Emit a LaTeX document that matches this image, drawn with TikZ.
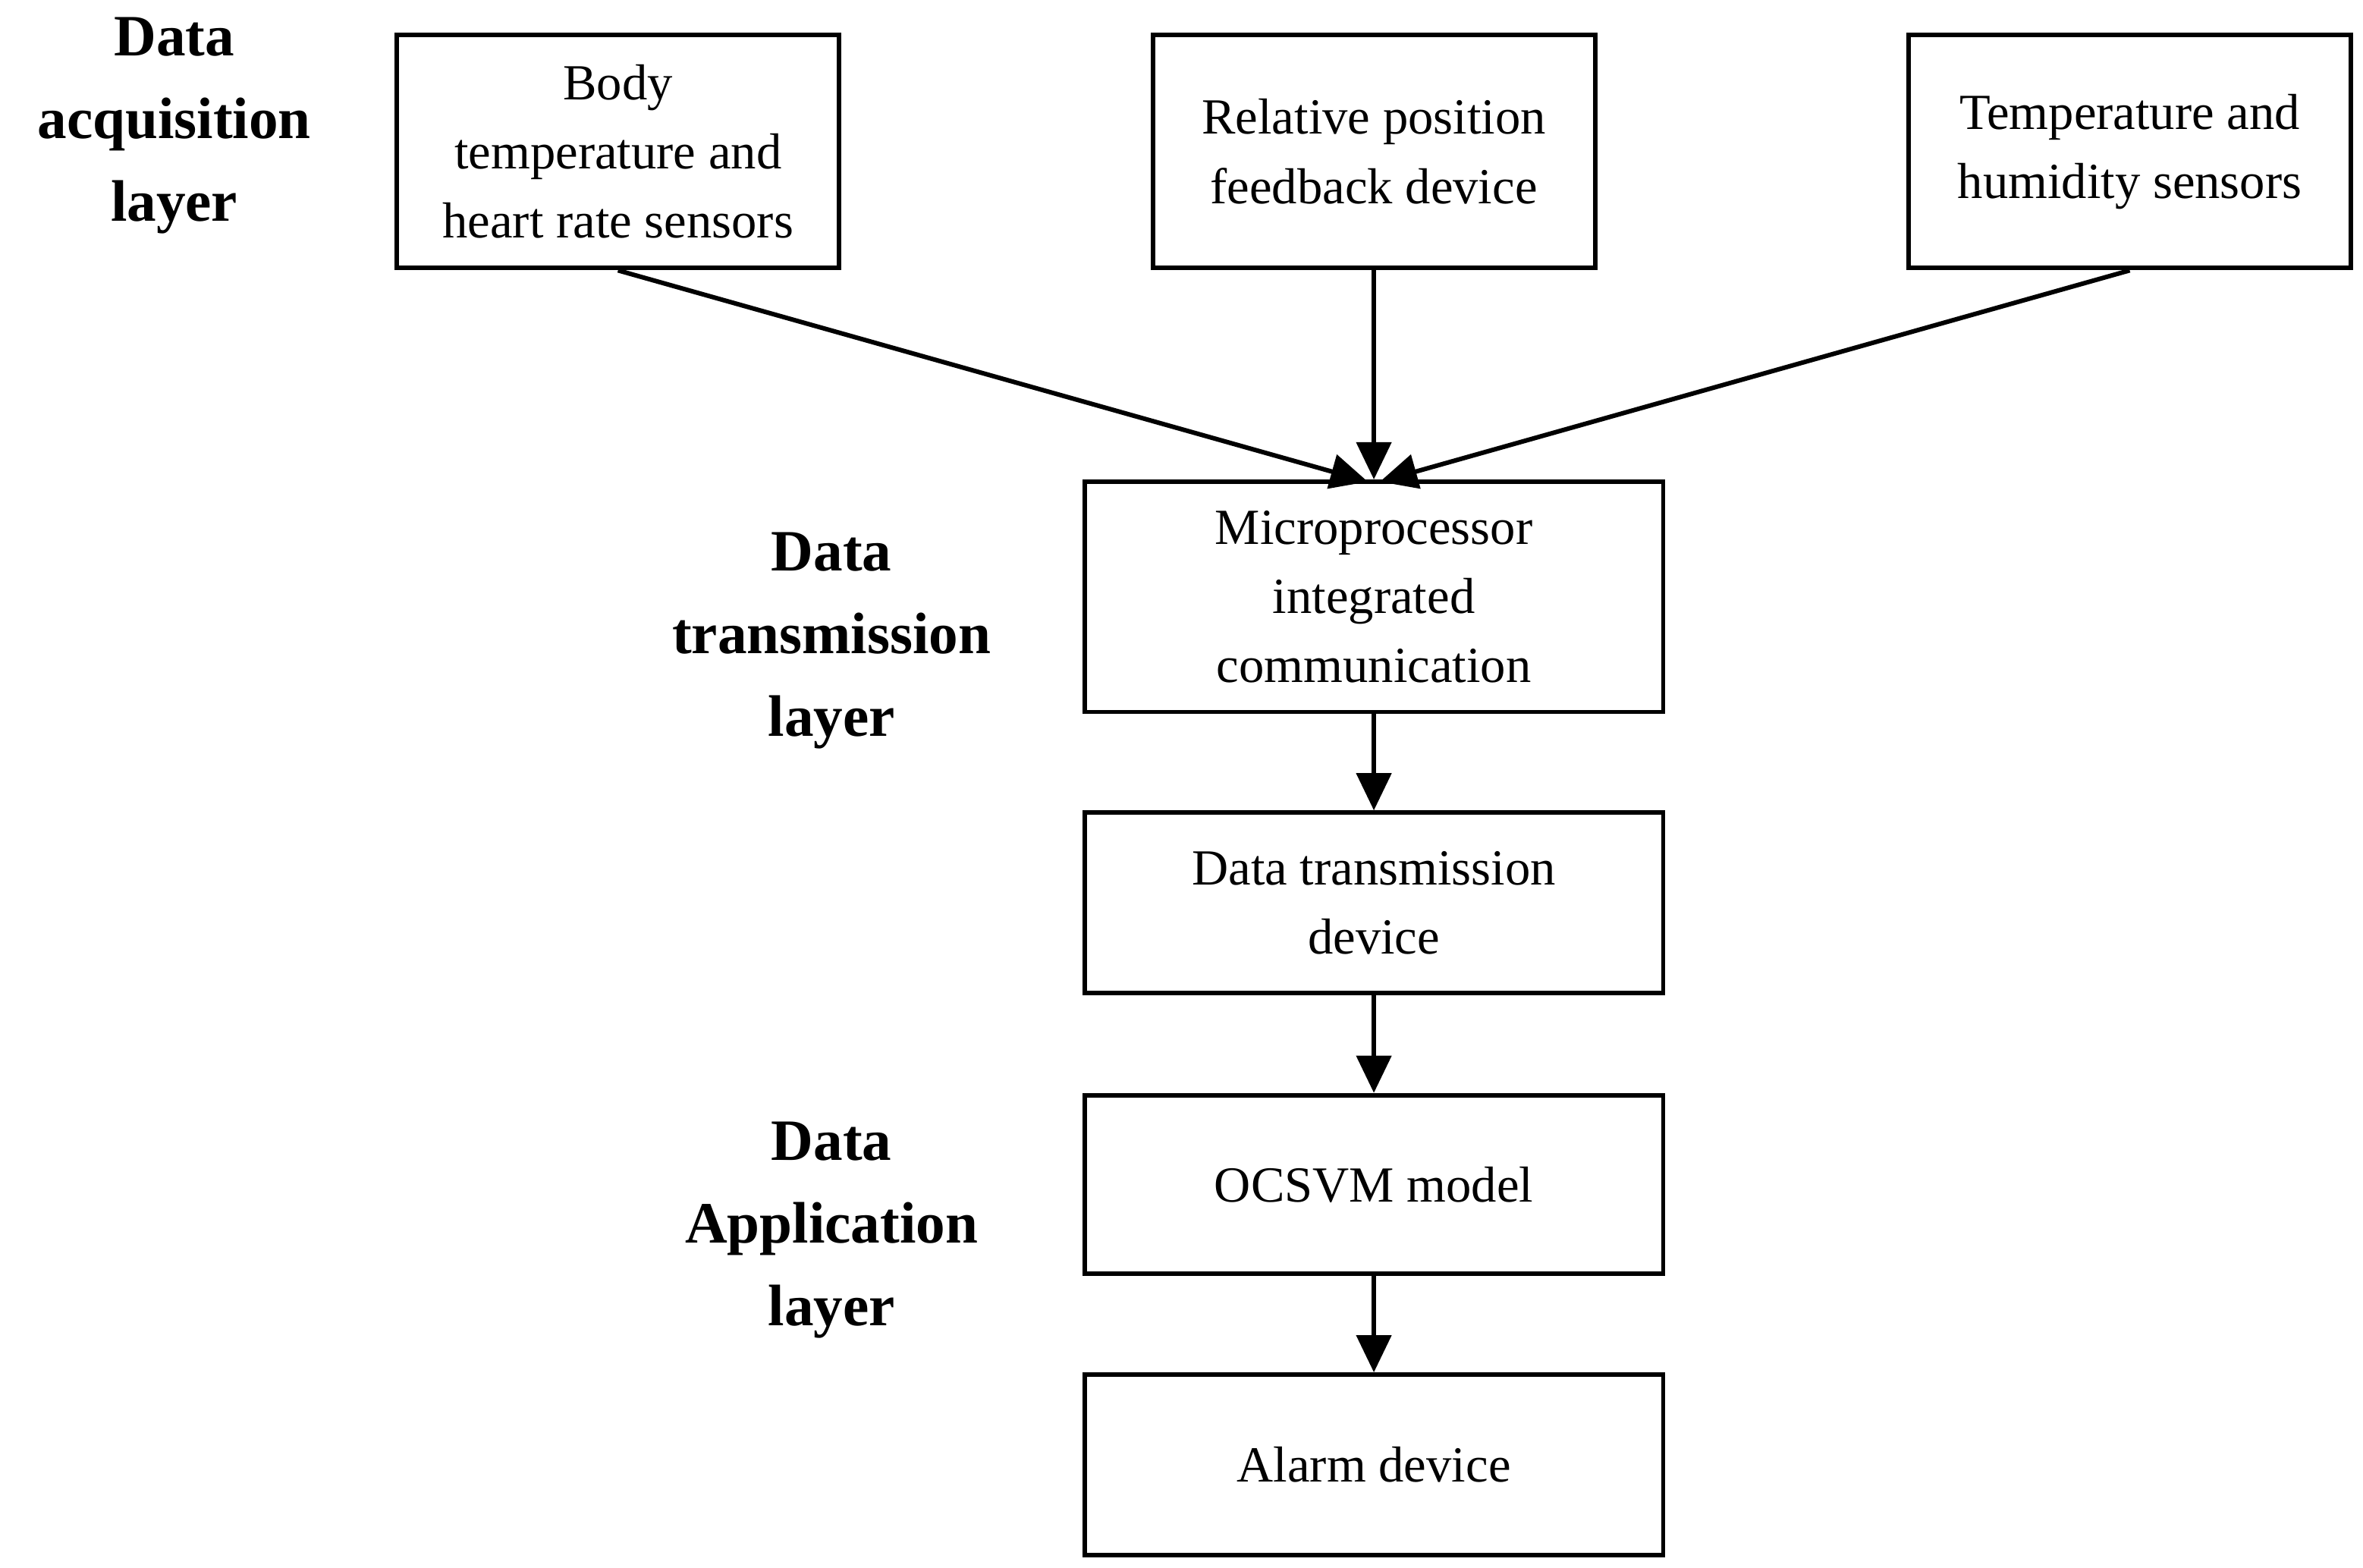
\documentclass[tikz,border=0pt]{standalone}
\usepackage{fontspec}
\setmainfont{Liberation Serif}
\usetikzlibrary{arrows.meta}
\begin{document}
\begin{tikzpicture}[x=0.02cm,y=-0.02cm,
 box/.style={draw,line width=1.7pt,inner sep=0pt,align=center,font=\fontsize{19}{26}\selectfont},
 lab/.style={align=center,font=\fontsize{22}{31}\selectfont\bfseries},
 arr/.style={line width=1.7pt,-{Triangle[length=14pt,width=13pt]}}]
\useasboundingbox (0,0) rectangle (1560,1035);
\node[box,minimum width=292*0.02cm,minimum height=154*0.02cm] (b1) at (408,100) {Body\\temperature and\\heart rate sensors};
\node[box,minimum width=292*0.02cm,minimum height=154*0.02cm] (b2) at (907,100) {Relative position\\feedback device};
\node[box,minimum width=292*0.02cm,minimum height=154*0.02cm] (b3) at (1406,100) {Temperature and\\humidity sensors};
\node[box,minimum width=382*0.02cm,minimum height=152*0.02cm] (m) at (907,394) {Microprocessor\\integrated\\communication};
\node[box,minimum width=382*0.02cm,minimum height=119*0.02cm] (d) at (907,596) {Data transmission\\device};
\node[box,minimum width=382*0.02cm,minimum height=118*0.02cm] (o) at (907,782) {OCSVM model};
\node[box,minimum width=382*0.02cm,minimum height=119*0.02cm] (a) at (907,967) {Alarm device};
\node[lab] (l1) at (115,83) {Data\\acquisition\\layer};
\node[lab] (l2) at (549,423) {Data\\transmission\\layer};
\node[lab] (l3) at (549,812) {Data\\Application\\layer};
\coordinate (t1) at (903,318);\coordinate (t3) at (911,318);
\draw[arr] (b1.south) -- (t1);
\draw[arr] (b2.south) -- (m.north);
\draw[arr] (b3.south) -- (t3);
\draw[arr] (m) -- (d);
\draw[arr] (d) -- (o);
\draw[arr] (o) -- (a);
\end{tikzpicture}
\end{document}
